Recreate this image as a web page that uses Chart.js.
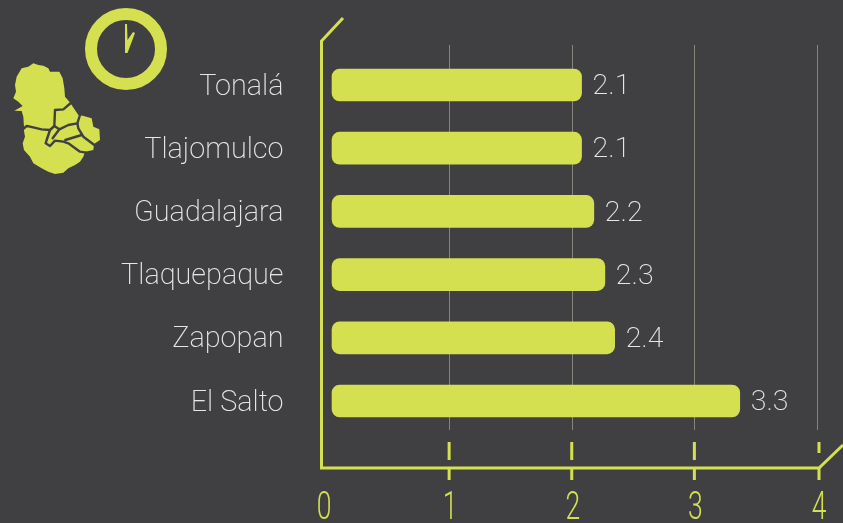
<!DOCTYPE html>
<html><head><meta charset="utf-8">
<style>html,body{margin:0;padding:0;background:#404042;overflow:hidden}#w{width:843px;height:523px;position:relative}</style>
<script src="https://cdn.jsdelivr.net/npm/chart.js@4/dist/chart.umd.min.js"></script>
</head><body><div id="w"><canvas id="c" width="843" height="523"></canvas></div>
<script>
const categories = ["Tonalá","Tlajomulco","Guadalajara","Tlaquepaque","Zapopan","El Salto"];
const barEnds = [2.08,2.08,2.18,2.27,2.35,3.37];
const valueLabels = ["2.1","2.1","2.2","2.3","2.4","3.3"];
const xTicks = [0,1,2,3,4];
const barBase = 0.045;

const LIME="#d4e04f", BG="#404042", TXT="#e6e6e6";
const mapOutline=[[100,190],[115,195],[130,197],[145,205],[150,215],[178,215],[188,235],[193,265],[195,290],[208,305],[215,315],[235,345],[248,347],[275,355],[280,380],[298,388],[300,420],[282,432],[280,450],[255,455],[250,470],[240,485],[225,495],[205,505],[190,518],[165,522],[145,515],[125,505],[100,490],[90,470],[72,450],[68,430],[75,410],[72,392],[72,380],[70,350],[65,333],[43,332],[68,318],[55,305],[40,295],[48,275],[45,255],[50,230],[65,205],[85,200]];
const mapBorders=[
[[216,306],[190,328],[165,330],[163,378],[150,390],[125,388],[90,380],[80,378],[66,390]],
[[163,378],[178,388],[205,375],[232,370],[240,345]],
[[232,370],[235,385],[250,410],[282,434]],
[[150,390],[140,420],[137,430],[150,438],[165,422],[190,425],[205,430],[240,455],[258,458]],
[[178,388],[158,415]],
[[196,420],[245,405]]
];
const deco={id:'deco',
 beforeDatasetsDraw(ch){
  const c=ch.ctx,x=ch.scales.x;
  c.save();c.strokeStyle="#85857c";c.lineWidth=1;
  xTicks.slice(1).forEach(t=>{const p=Math.round(x.getPixelForValue(t))+.5;c.beginPath();c.moveTo(p,45);c.lineTo(p,430);c.stroke();});
  c.restore();
 },
 afterDatasetsDraw(ch){
  const c=ch.ctx,x=ch.scales.x,m=ch.getDatasetMeta(0);
  c.save();
  c.font="200 28.5px Roboto";c.fillStyle=TXT;c.textBaseline="middle";c.textAlign="left";
  m.data.forEach((b,i)=>c.fillText(valueLabels[i],b.x+11,b.y+2));
  c.strokeStyle=LIME;c.lineWidth=3;c.lineJoin="miter";
  c.beginPath();c.moveTo(343,18);c.lineTo(321.5,41);c.lineTo(321.5,468);c.lineTo(819,468);c.lineTo(843,445);c.stroke();
  xTicks.slice(1).forEach(t=>{
    const off=t===4?2:0,p=x.getPixelForValue(t)+off;
    c.beginPath();c.moveTo(p,442);c.lineTo(p,t===4?453:460);c.moveTo(p,468);c.lineTo(p,480);c.stroke();
  });
  c.fillStyle=LIME;c.textAlign="center";c.textBaseline="alphabetic";c.font="300 39px Roboto";
  xTicks.forEach(t=>{
    const p=t===0?324:x.getPixelForValue(t)+(t===4?2:1);
    c.save();c.translate(p,519);c.scale(0.68,1);c.fillText(String(t),0,0);c.restore();
  });
  c.lineWidth=12;c.beginPath();c.arc(126,49,35,0,Math.PI*2);c.stroke();
  c.fillStyle=LIME;c.beginPath();c.moveTo(125,24);c.lineTo(127,24);c.lineTo(127.5,40);c.lineTo(133,32);c.lineTo(135,33);c.lineTo(127.5,53);c.lineTo(125,53);c.closePath();c.fill();
  c.fillStyle=LIME;c.beginPath();
  mapOutline.forEach((q,i)=>i?c.lineTo(q[0]/3,q[1]/3):c.moveTo(q[0]/3,q[1]/3));
  c.closePath();c.fill();
  c.strokeStyle=BG;c.lineWidth=2.4;c.lineJoin="round";c.lineCap="round";
  mapBorders.forEach(r=>{c.beginPath();r.forEach((q,i)=>i?c.lineTo(q[0]/3,q[1]/3):c.moveTo(q[0]/3,q[1]/3));c.stroke();});
  c.restore();
 }};
new Chart(document.getElementById('c'),{
 type:'bar',
 data:{labels:categories,datasets:[{data:barEnds,base:barBase,backgroundColor:LIME,borderRadius:8,borderSkipped:false,barThickness:32}]},
 plugins:[deco],
 options:{indexAxis:'y',responsive:false,animation:false,
  layout:{padding:{top:53.4,right:26,left:0,bottom:0}},
  plugins:{legend:{display:false},tooltip:{enabled:false}},
  scales:{
   x:{min:0,max:4,grid:{display:false},border:{display:false},ticks:{display:false,stepSize:1},afterFit(s){s.height=90.4;}},
   y:{grid:{display:false,drawTicks:false},border:{display:false},
      ticks:{color:TXT,font:{family:'Roboto',weight:'200',size:28.8},padding:43,labelOffset:2.5},
      afterFit(s){s.width=326.5;s.paddingTop=0;s.paddingBottom=0;}}
  }}
});
</script></body></html>
